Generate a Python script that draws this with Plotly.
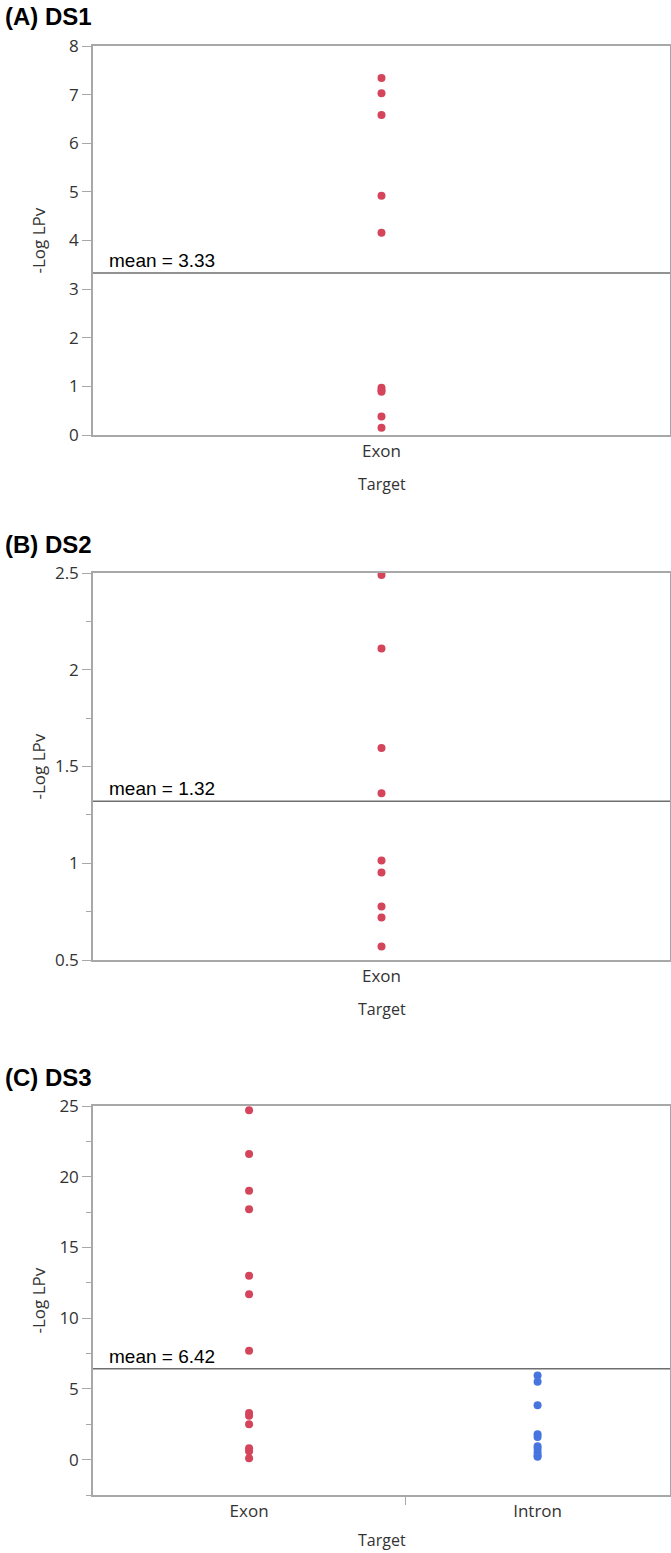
import plotly.graph_objects as go

# ---------------- data ----------------
ds1_exon = [7.34, 7.03, 6.58, 4.92, 4.16, 0.97, 0.92, 0.89, 0.38, 0.15]
ds1_mean = 3.33

ds2_exon = [2.49, 2.11, 1.595, 1.362, 1.014, 0.952, 0.776, 0.72, 0.57]
ds2_mean = 1.32

ds3_exon = [24.7, 21.6, 19.0, 17.7, 13.0, 11.7, 7.7, 3.3, 3.1, 2.5, 0.8, 0.6, 0.1]
ds3_intron = [5.95, 5.5, 3.85, 1.8, 1.6, 0.95, 0.75, 0.5, 0.3, 0.2]
ds3_mean = 6.42

categories = ["Exon", "Intron"]
panel_titles = ["(A) DS1", "(B) DS2", "(C) DS3"]
y_title = "-Log LPv"
x_title = "Target"

# ---------------- layout constants ----------------
W, H = 671, 1553
RED = "#d4455c"
BLUE = "#4774de"
AXIS_GREY = "#a8a8a8"
MEAN_GREY = "#6e6e6e"
TEXT_GREY = "#333333"
TICK_FONT = dict(family="Open Sans", size=17, color=TEXT_GREY)
EXON_FRAC = 0.541  # share of panel C x-axis taken by the Exon group

X0, X1 = 93, 670
panels_px = [(46, 435), (573, 960), (1106, 1495)]


def ydom(top, bot):
    return [1 - bot / H, 1 - top / H]


fig = go.Figure()

marker_red = dict(color=RED, size=8)
marker_blue = dict(color=BLUE, size=8)

fig.add_trace(go.Scatter(x=[0.5] * len(ds1_exon), y=ds1_exon, mode="markers",
                         marker=marker_red, xaxis="x", yaxis="y", showlegend=False))
fig.add_trace(go.Scatter(x=[0.5] * len(ds2_exon), y=ds2_exon, mode="markers",
                         marker=marker_red, xaxis="x2", yaxis="y2", showlegend=False))
exon_c = EXON_FRAC / 2
intron_c = EXON_FRAC + (1 - EXON_FRAC) / 2
fig.add_trace(go.Scatter(x=[exon_c] * len(ds3_exon), y=ds3_exon, mode="markers",
                         marker=marker_red, xaxis="x3", yaxis="y3", showlegend=False))
fig.add_trace(go.Scatter(x=[intron_c] * len(ds3_intron), y=ds3_intron, mode="markers",
                         marker=marker_blue, xaxis="x3", yaxis="y3", showlegend=False))

xdom = [X0 / W, X1 / W]
common_axis = dict(showline=True, linecolor=AXIS_GREY, linewidth=1.5, mirror=True,
                   showgrid=False, zeroline=False, tickfont=TICK_FONT, fixedrange=True,
                   automargin=False)

layout = dict(
    template="none",
    width=W, height=H, margin=dict(l=0, r=0, t=0, b=0, autoexpand=False),
    paper_bgcolor="white", plot_bgcolor="white", showlegend=False,
    xaxis=dict(domain=xdom, anchor="y", range=[0, 1], tickmode="array",
               tickvals=[0.5], ticktext=[categories[0]], ticks="", **common_axis),
    yaxis=dict(domain=ydom(*panels_px[0]), anchor="x", range=[0, 8], dtick=1,
               ticks="outside", ticklen=9, tickcolor=AXIS_GREY, tickwidth=1.2, **common_axis),
    xaxis2=dict(domain=xdom, anchor="y2", range=[0, 1], tickmode="array",
                tickvals=[0.5], ticktext=[categories[0]], ticks="", **common_axis),
    yaxis2=dict(domain=ydom(*panels_px[1]), anchor="x2", range=[0.5, 2.5], dtick=0.5,
                ticks="outside", ticklen=9, tickcolor=AXIS_GREY, tickwidth=1.2,
                minor=dict(ticks="outside", ticklen=5, dtick=0.25, tickcolor=AXIS_GREY, tickwidth=1.2),
                **common_axis),
    xaxis3=dict(domain=xdom, anchor="y3", range=[0, 1], tickmode="array",
                tickvals=[exon_c, intron_c], ticktext=categories, ticks="",
                minor=dict(tickmode="array", tickvals=[EXON_FRAC], ticks="outside",
                           ticklen=8, tickcolor=AXIS_GREY, tickwidth=1.2),
                **common_axis),
    yaxis3=dict(domain=ydom(*panels_px[2]), anchor="x3", range=[-2.5, 25], dtick=5,
                tick0=0, ticks="outside", ticklen=9, tickcolor=AXIS_GREY, tickwidth=1.2,
                minor=dict(ticks="outside", ticklen=5, dtick=2.5, tick0=0,
                           tickcolor=AXIS_GREY, tickwidth=1.2),
                **common_axis),
)
fig.update_layout(**layout)

means = [ds1_mean, ds2_mean, ds3_mean]
axes = ["", "2", "3"]
xtitle_offsets = [49, 49, 45]
for i, (m, ax) in enumerate(zip(means, axes)):
    fig.add_shape(type="line", xref=f"x{ax} domain", yref=f"y{ax}", x0=0, x1=1, y0=m, y1=m,
                  line=dict(color=MEAN_GREY, width=1.5))
    fig.add_annotation(xref="paper", yref=f"y{ax}", x=107 / W, y=m, xanchor="left",
                       yanchor="bottom", yshift=0, text=f"mean = {m:.2f}", showarrow=False,
                       font=dict(family="Liberation Sans, Arial", size=19, color="black"))
    top, bot = panels_px[i]
    # panel title
    fig.add_annotation(xref="paper", yref="paper", x=3 / W, y=1 - (top - 29) / H,
                       xanchor="left", yanchor="middle", text=f"<b>{panel_titles[i]}</b>",
                       showarrow=False, font=dict(family="Liberation Sans, Arial", size=24, color="black"))
    # y-axis title
    fig.add_annotation(xref="paper", yref="paper", x=38 / W, y=1 - ((top + bot) / 2) / H,
                       xanchor="center", yanchor="middle", text=y_title, textangle=-90,
                       showarrow=False, font=dict(family="Open Sans", size=17, color=TEXT_GREY))
    # x-axis title
    fig.add_annotation(xref="paper", yref="paper", x=((X0 + X1) / 2) / W,
                       y=1 - (bot + xtitle_offsets[i]) / H,
                       xanchor="center", yanchor="middle", text=x_title,
                       showarrow=False, font=dict(family="Open Sans", size=16, color=TEXT_GREY))

fig.write_html("out.html")
